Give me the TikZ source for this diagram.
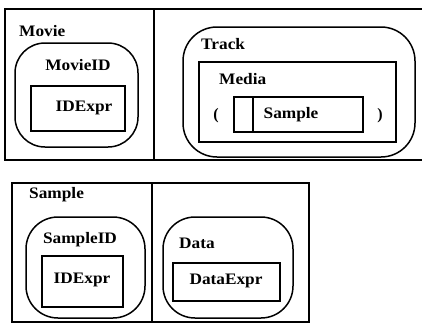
\documentclass[tikz,border=0pt]{standalone}
\usepackage{fontspec}
\setmainfont{Liberation Serif}
\newcommand\wlbl[1]{\scalebox{1.08}[1]{#1}}
\begin{document}
\begin{tikzpicture}[x=1pt,y=-1pt,
  frame/.style={line width=1.6pt},
  box/.style={draw,line width=1.5pt,inner sep=0pt},
  rbox/.style={draw,line width=1.5pt,rounded corners=30pt,inner sep=0pt},
  lbl/.style={inner sep=0pt,font=\fontsize{16}{18}\selectfont\bfseries},
]
\useasboundingbox (0,0) rectangle (422,332);
% top frame
\coordinate (tf1) at (423,9);
\coordinate (tf2) at (5,9);
\coordinate (tf3) at (5,160);
\coordinate (tf4) at (423,160);
\coordinate (td1) at (154,9);
\coordinate (td2) at (154,160);
\draw[frame] (tf1) -- (tf2) -- (tf3) -- (tf4);
\draw[frame] (td1) -- (td2);
\node[lbl,anchor=west] (movie) at (19,31) {\wlbl{Movie}};
\node[rbox,minimum width=123pt,minimum height=104pt] (movieidbox) at (76.5,95) {};
\node[lbl] (movieid) at (78,65) {\wlbl{MovieID}};
\node[box,minimum width=94pt,minimum height=45pt] (idexpr1box) at (78,108.5) {};
\node[lbl] (idexpr1) at (84,108) {\wlbl{IDExpr}};
\node[rbox,rounded corners=34pt,minimum width=232pt,minimum height=130pt] (trackbox) at (299,92) {};
\node[lbl,anchor=west] (track) at (201,44) {\wlbl{Track}};
\node[box,minimum width=197pt,minimum height=80pt] (mediabox) at (297.5,102) {};
\node[lbl,anchor=west] (media) at (219,79) {\wlbl{Media}};
\node[lbl] (lpar) at (216,116) {(};
\node[lbl] (rpar) at (380,116) {)};
\node[box,minimum width=19pt,minimum height=35pt] (smallbox) at (243.5,114.5) {};
\node[box,minimum width=110pt,minimum height=35pt] (samplebox) at (308,114.5) {};
\node[lbl] (sample1) at (291,115) {\wlbl{Sample}};
% bottom frame
\node[draw,frame,minimum width=297pt,minimum height=139pt,inner sep=0pt] (bframe) at (160.5,252.5) {};
\coordinate (bd1) at (152,183);
\coordinate (bd2) at (152,322);
\draw[frame] (bd1) -- (bd2);
\node[lbl,anchor=west] (sample2) at (29,195) {\wlbl{Sample}};
\node[rbox,rounded corners=32pt,minimum width=119pt,minimum height=101pt] (sampleidbox) at (85.5,267.5) {};
\node[lbl] (sampleid) at (80,240) {\wlbl{SampleID}};
\node[box,minimum width=81pt,minimum height=51pt] (idexpr2box) at (82.5,281.5) {};
\node[lbl] (idexpr2) at (82,280) {\wlbl{IDExpr}};
\node[rbox,rounded corners=32pt,minimum width=130pt,minimum height=101pt] (databox) at (228,267.5) {};
\node[lbl,anchor=west] (data) at (179,243) {\wlbl{Data}};
\node[box,minimum width=107pt,minimum height=38pt] (dataexprbox) at (226.5,282) {};
\node[lbl] (dataexpr) at (226,281) {\wlbl{DataExpr}};
\end{tikzpicture}
\end{document}
